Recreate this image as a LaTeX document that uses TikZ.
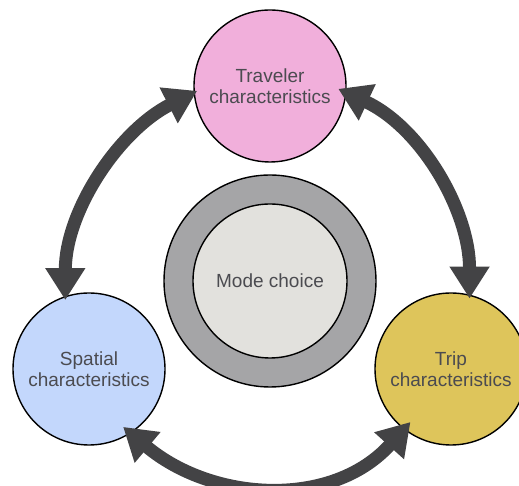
\documentclass[tikz,border=0pt]{standalone}
\usepackage{fontspec}
\setmainfont{Liberation Sans}
\usetikzlibrary{arrows.meta}

\definecolor{travpink}{HTML}{F1AFDB}
\definecolor{spatblue}{HTML}{C3D7FC}
\definecolor{tripgold}{HTML}{DEC55B}
\definecolor{ringgray}{HTML}{A5A5A7}
\definecolor{coregray}{HTML}{E2E1DD}
\definecolor{arrowgray}{HTML}{434345}
\definecolor{txtgray}{HTML}{4B4B50}

\begin{document}
\begin{tikzpicture}[x=1pt, y=1pt,
    circ/.style={circle, draw=black, line width=1.4pt, minimum size=152pt,
        inner sep=0pt, align=center, text=txtgray,
        font=\fontsize{19}{21.5}\selectfont},
    link/.style={draw=arrowgray, line width=13pt,
        {Triangle[width=38pt,length=32pt]}-{Triangle[width=38pt,length=32pt]}}]

    % Frame
    \path[use as bounding box, clip] (0,0) rectangle (519,486);

    % Characteristics
    \node[circ, fill=travpink] (trav) at (270,400) {Traveler\\characteristics};
    \node[circ, fill=spatblue] (spat) at (89,117) {Spatial\\characteristics};
    \node[circ, fill=tripgold] (trip) at (451,117) {Trip\\characteristics};

    % Mode choice
    \node[circ, fill=ringgray, minimum size=212pt] (ring) at (270,205) {};
    \node[circ, fill=coregray, minimum size=154pt] (mode) at (ring.center) {Mode choice};

    % Arrows
    \draw[link, shorten <=-4pt, shorten >=-4pt] (trav.185) to[out=207, in=90, looseness=0.9] (spat.108);
    \draw[link, shorten <=-9pt, shorten >=-4pt] (trav.-5) to[out=-25, in=90, looseness=0.9] (trip.76);
    \draw[link, shorten <=-10pt, shorten >=-10pt] (spat.-57) to[out=-40, in=228] (trip.232);
\end{tikzpicture}
\end{document}
